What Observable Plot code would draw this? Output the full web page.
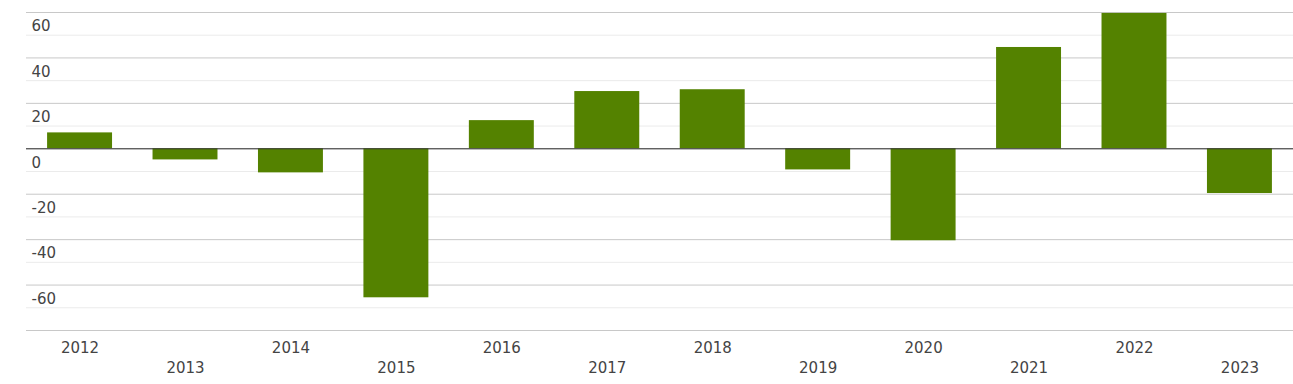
<!DOCTYPE html>
<html>
<head>
<meta charset="utf-8">
<script src="https://cdn.jsdelivr.net/npm/d3@7"></script>
<script src="https://cdn.jsdelivr.net/npm/@observablehq/plot@0.6"></script>
<style>
  html, body { margin: 0; padding: 0; background: #fff; }
  #chart svg { display: block; }
</style>
</head>
<body>
<div id="chart"></div>
<script>
const years = ["2012","2013","2014","2015","2016","2017","2018","2019","2020","2021","2022","2023"];
const values = [7.0, -4.9, -10.6, -65.6, 12.4, 25.2, 26.0, -9.3, -40.5, 44.6, 59.6, -19.7];
const majorTicks = [-80, -60, -40, -20, 0, 20, 40, 60];
const minorTicks = [-70, -50, -30, -10, 10, 30, 50];
const yLabels = [-60, -40, -20, 0, 20, 40, 60];

const data = years.map((y, i) => ({year: y, value: values[i]}));
const evenYears = years.filter((y, i) => i % 2 === 0);
const oddYears = years.filter((y, i) => i % 2 === 1);

const chart = Plot.plot({
  width: 1293,
  height: 384,
  marginLeft: 26,
  marginRight: 0,
  marginTop: 12,
  marginBottom: 54,
  style: {fontFamily: "DejaVu Sans", fontSize: "15px", color: "#444", background: "#fff"},
  x: {domain: years, paddingInner: 0.384, paddingOuter: 0.2, round: false, axis: null},
  y: {domain: [-80, 60], axis: null},
  marks: [
    Plot.ruleY(minorTicks, {stroke: "#ebebeb", strokeWidth: 1}),
    Plot.ruleY(majorTicks, {stroke: "#c8c8c8", strokeWidth: 1}),
    Plot.barY(data, {x: "year", y: "value", fill: "#548200"}),
    Plot.ruleY([0], {stroke: "#333", strokeWidth: 1}),
    Plot.text(yLabels, {y: d => d, text: d => String(d), frameAnchor: "left", textAnchor: "start", dx: 5, dy: 14, fill: "#444", fontSize: 15}),
    Plot.text(evenYears, {x: d => d, text: d => d, frameAnchor: "bottom", dy: 22, fill: "#444", fontSize: 15}),
    Plot.text(oddYears, {x: d => d, text: d => d, frameAnchor: "bottom", dy: 42, fill: "#444", fontSize: 15})
  ]
});
document.getElementById("chart").appendChild(chart);
</script>
</body>
</html>
